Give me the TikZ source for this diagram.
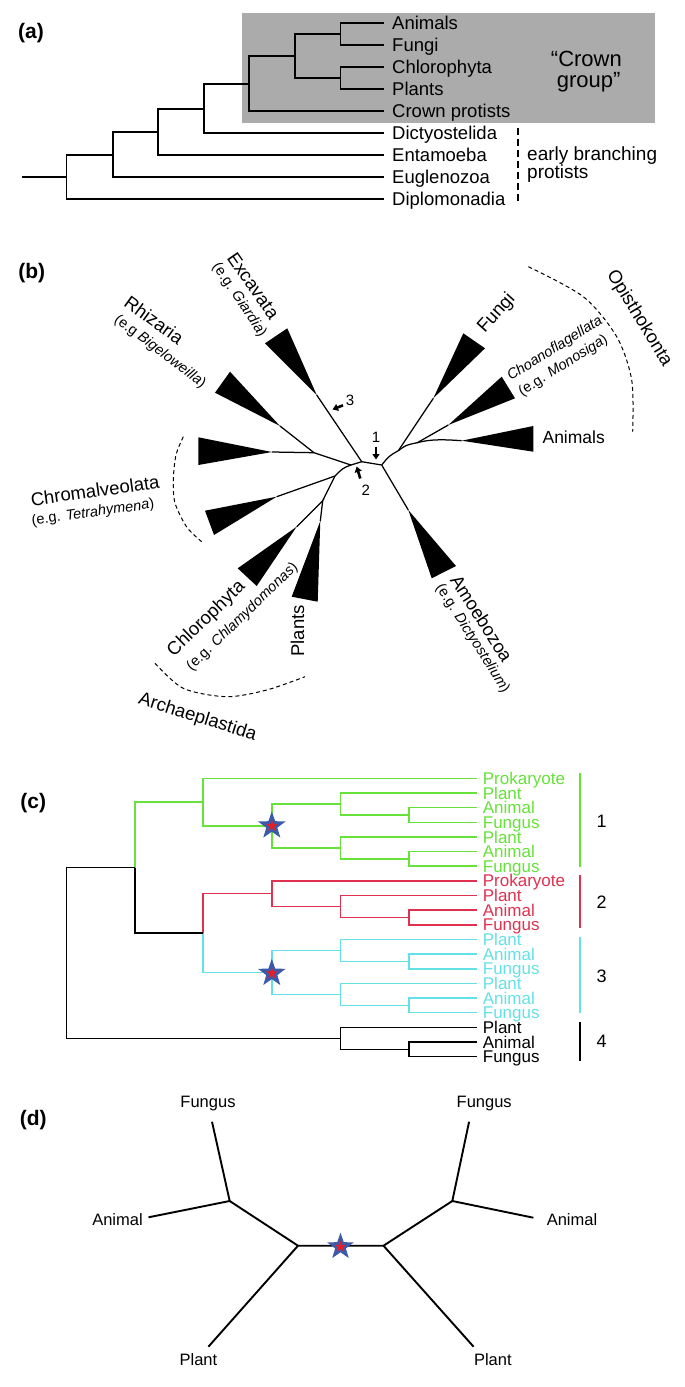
\documentclass[tikz,border=0pt]{standalone}
\usepackage{fontspec}
\setmainfont{Liberation Sans}
\usetikzlibrary{shapes.geometric,arrows.meta}
\definecolor{boxgray}{RGB}{171,171,171}
\definecolor{cgreen}{RGB}{102,226,58}
\definecolor{cred}{RGB}{224,50,80}
\definecolor{ccyan}{RGB}{100,225,230}
\definecolor{starblue}{RGB}{60,90,170}
\definecolor{starred}{RGB}{230,30,40}
\newcommand{\myfs}[1]{\fontsize{#1pt}{#1pt}\selectfont}
\begin{document}
\begin{tikzpicture}[x=1pt,y=-1pt,
 panel/.style={font=\myfs{21}\bfseries, inner sep=0},
 treea/.style={line width=1.9pt},
 leafa/.style={anchor=west, inner xsep=8.5pt, inner ysep=0, text height=13.2pt, text depth=0pt, font=\myfs{18.5}},
 btree/.style={line width=1.25pt, line join=round},
 blab/.style={font=\myfs{18.5}, inner sep=0},
 bsub/.style={font=\myfs{14.5}, inner sep=0},
 bnum/.style={font=\myfs{15}, inner sep=0},
 barrow/.style={line width=2.6pt, -{Triangle[length=5.5pt,width=7pt]}},
 dashedarc/.style={dash pattern=on 4pt off 3pt, line width=1pt},
 ctree/.style={line width=1.5pt},
 leafc/.style={anchor=west, inner xsep=6pt, inner ysep=0, text height=12.2pt, text depth=0pt, font=\myfs{17}},
 cnum/.style={font=\myfs{18}, inner sep=0},
 dtree/.style={line width=1.9pt, line join=round},
 dlab/.style={font=\myfs{16.5}, inner sep=0, text height=11.8pt, text depth=0pt},
 bigstar/.style={star, star points=5, star point ratio=2.5, fill=starblue, minimum size=29pt, inner sep=0},
 smallstar/.style={star, star points=5, star point ratio=2.5, fill=starred, minimum size=12pt, inner sep=0},
]
\useasboundingbox (0,0) rectangle (685,1387);
\fill[white] (0,0) rectangle (685,1387);

% ================= (a) =================
\node[panel] (pa) at (31,33) {(a)};
\fill[boxgray] (241.7,13.3) rectangle (655.3,122.7);
\node[leafa] (a1) at (383.5,23.3) {Animals};
\node[leafa] (a2) at (383.5,45.3) {Fungi};
\node[leafa] (a3) at (383.5,67.3) {Chlorophyta};
\node[leafa] (a4) at (383.5,89.3) {Plants};
\node[leafa] (a5) at (383.5,111.3) {Crown protists};
\node[leafa] (a6) at (383.5,133.3) {Dictyostelida};
\node[leafa] (a7) at (383.5,155.3) {Entamoeba};
\node[leafa] (a8) at (383.5,177.3) {Euglenozoa};
\node[leafa] (a9) at (383.5,199.3) {Diplomonadia};
\coordinate (aG) at (340.5,34.3);
\coordinate (aH) at (340.5,78.3);
\coordinate (aF) at (294.9,56.3);
\coordinate (aE) at (249.2,83.8);
\coordinate (aD) at (204,108.6);
\coordinate (aC) at (158.3,132);
\coordinate (aB) at (113,154.6);
\coordinate (aA) at (66.5,177);
\coordinate (aR) at (22.2,177);
\draw[treea] (aG) |- (a1.west);
\draw[treea] (aG) |- (a2.west);
\draw[treea] (aH) |- (a3.west);
\draw[treea] (aH) |- (a4.west);
\draw[treea] (aF) |- (aG);
\draw[treea] (aF) |- (aH);
\draw[treea] (aE) |- (aF);
\draw[treea] (aE) |- (a5.west);
\draw[treea] (aD) |- (aE);
\draw[treea] (aD) |- (a6.west);
\draw[treea] (aC) |- (aD);
\draw[treea] (aC) |- (a7.west);
\draw[treea] (aB) |- (aC);
\draw[treea] (aB) |- (a8.west);
\draw[treea] (aA) |- (aB);
\draw[treea] (aA) |- (a9.west);
\draw[treea] (aR) -- (aA);
\node[font=\myfs{22}, inner sep=0, text height=15.8pt, text depth=0pt] (cg1) at (586.4,58.8) {“Crown};
\node[font=\myfs{22}, inner sep=0, text height=15.8pt, text depth=0pt] (cg2) at (588.6,79.4) {group”};
\coordinate (ebt) at (518,127.7);
\coordinate (ebb) at (518,204);
\draw[line width=1.4pt, dash pattern=on 7pt off 4pt] (ebt) -- (ebb);
\node[anchor=west, font=\myfs{19}, inner sep=0, text height=13.6pt, text depth=0pt] (eb1) at (527,153.2) {early branching};
\node[anchor=west, font=\myfs{19}, inner sep=0, text height=13.6pt, text depth=0pt] (eb2) at (527,171.5) {protists};

% ================= (b) =================
\node[panel] (pb) at (31.7,273.3) {(b)};
\coordinate (n1) at (381.7,465);
\coordinate (n0) at (361.7,461.7);
\coordinate (n2) at (351,465);
\coordinate (nR) at (314,452.7);
\coordinate (nL) at (335,476);
\coordinate (nP) at (322.7,500.7);
\coordinate (nF) at (398.3,450.7);
\coordinate (nA) at (417.3,442.7);
\coordinate (exA) at (316.7,395);
\coordinate (rhA) at (280,426);
\coordinate (chUA) at (272,452);
\coordinate (chLA) at (276.7,496.7);
\coordinate (clA) at (296.7,526.7);
\coordinate (plA) at (320.3,521);
\coordinate (amA) at (408.3,510);
\coordinate (fuA) at (433.3,398.3);
\coordinate (coA) at (448.3,425);
\coordinate (anA) at (461.7,440.7);
% clades
\fill (exA) -- (265,343.3) -- (287.3,328.3) -- cycle;
\fill (rhA) -- (215,392.7) -- (230,371.7) -- cycle;
\fill (chUA) -- (198.3,437.3) -- (198.3,465) -- cycle;
\fill (chLA) -- (205,510.7) -- (214,535) -- cycle;
\fill (clA) -- (237.7,568.3) -- (256.7,586) -- cycle;
\fill (plA) -- (291.7,596.7) -- (317.7,601.7) -- cycle;
\fill (amA) -- (431.7,578.3) -- (456,566) -- cycle;
\fill (fuA) -- (463.3,333.3) -- (485,348.3) -- cycle;
\fill (coA) -- (501.7,376.7) -- (515,398.3) -- cycle;
\fill (anA) -- (533.3,426) -- (533.3,451.7) -- cycle;
% branches
\draw[btree] (exA) -- (n0) -- (n1);
\draw[btree] (n0) -- (n2) -- (nR) -- (rhA);
\draw[btree] (nR) -- (chUA);
\draw[btree] (n2) .. controls (343,468) .. (nL) -- (chLA);
\draw[btree] (nL) -- (nP) -- (clA);
\draw[btree] (nP) -- (plA);
\draw[btree] (n1) -- (amA);
\draw[btree] (n1) .. controls (389,456) .. (nF) -- (fuA);
\draw[btree] (nF) .. controls (406,445) .. (nA) -- (coA);
\draw[btree] (nA) .. controls (430,439) and (445,439.5) .. (anA);
% arrows
\node[bnum] (b1) at (376,437.3) {1};
\node[bnum] (b2) at (365.7,490) {2};
\node[bnum] (b3) at (350,400.7) {3};
\coordinate (ar1s) at (376,446.5);
\coordinate (ar1e) at (376,459.5);
\coordinate (ar2s) at (360.3,478.5);
\coordinate (ar2e) at (356.6,466.5);
\coordinate (ar3s) at (343,405.3);
\coordinate (ar3e) at (332.5,409.5);
\draw[barrow] (ar1s) -- (ar1e);
\draw[barrow] (ar2s) -- (ar2e);
\draw[barrow] (ar3s) -- (ar3e);
% labels
\node[blab, rotate=-55] (lex) at (253.3,285.8) {Excavata};
\node[bsub, rotate=-56] (lexs) at (239.2,300) {(e.g. \textit{Giardia})};
\node[blab, rotate=-36] (lrh) at (154.2,320) {Rhizaria};
\node[bsub, rotate=-37] (lrhs) at (160,351.7) {(e.g \textit{Bigeloweilla})};
\node[blab, rotate=8] (lch) at (95,490.5) {Chromalveolata};
\node[bsub, rotate=8] (lchs) at (93,513) {(e.g. \textit{Tetrahymena})};
\node[blab, rotate=44] (lcl) at (206.5,619) {Chlorophyta};
\node[bsub, rotate=44] (lcls) at (242.5,617) {(e.g. \textit{Chlamydomonas})};
\node[blab, rotate=90] (lpl) at (297.5,631) {Plants};
\node[blab, rotate=-17.5] (lar) at (197.5,717.5) {Archaeplastida};
\node[blab, rotate=-57.5] (lam) at (481.7,618.3) {Amoebozoa};
\node[bsub, rotate=-57.5] (lams) at (472.5,638.5) {(e.g. \textit{Dictyostelium})};
\node[blab, rotate=48] (lfu) at (496.7,313.3) {Fungi};
\node[bsub, rotate=32] (lco) at (555,348.8) {\textit{Choanoflagellata}};
\node[bsub, rotate=32] (lcos) at (563.3,365.8) {(e.g. \textit{Monosiga})};
\node[blab, font=\myfs{17.5}] (lan) at (573.7,437.3) {Animals};
\node[blab, rotate=-58.6] (lop) at (639.2,318.3) {Opisthokonta};
% dashed arcs
\draw[dashedarc] plot[smooth] coordinates {(528.3,266.7) (583.3,296.7) (616.7,336.7) (631.7,380) (632.7,431.7)};
\draw[dashedarc] plot[smooth] coordinates {(183.3,436.7) (176,455) (173.3,480) (175,503) (186.7,527) (201.7,541.7)};
\draw[dashedarc] plot[smooth] coordinates {(155,663.3) (183.3,688.3) (226.7,696.7) (266.7,690) (305,676.7)};

% ================= (c) =================
\node[panel] (pc) at (33.3,803.3) {(c)};
\node[leafc, text=cgreen] (c1) at (476.7,778.3) {Prokaryote};
\node[leafc, text=cgreen] (c2) at (476.7,792.95) {Plant};
\node[leafc, text=cgreen] (c3) at (476.7,807.6) {Animal};
\node[leafc, text=cgreen] (c4) at (476.7,822.25) {Fungus};
\node[leafc, text=cgreen] (c5) at (476.7,836.9) {Plant};
\node[leafc, text=cgreen] (c6) at (476.7,851.55) {Animal};
\node[leafc, text=cgreen] (c7) at (476.7,866.2) {Fungus};
\node[leafc, text=cred] (c8) at (476.7,880.85) {Prokaryote};
\node[leafc, text=cred] (c9) at (476.7,895.5) {Plant};
\node[leafc, text=cred] (c10) at (476.7,910.15) {Animal};
\node[leafc, text=cred] (c11) at (476.7,924.8) {Fungus};
\node[leafc, text=ccyan] (c12) at (476.7,939.45) {Plant};
\node[leafc, text=ccyan] (c13) at (476.7,954.1) {Animal};
\node[leafc, text=ccyan] (c14) at (476.7,968.75) {Fungus};
\node[leafc, text=ccyan] (c15) at (476.7,983.4) {Plant};
\node[leafc, text=ccyan] (c16) at (476.7,998.05) {Animal};
\node[leafc, text=ccyan] (c17) at (476.7,1012.7) {Fungus};
\node[leafc] (c18) at (476.7,1027.35) {Plant};
\node[leafc] (c19) at (476.7,1042) {Animal};
\node[leafc] (c20) at (476.7,1056.65) {Fungus};
\coordinate (gA) at (408.8,814.9);
\coordinate (gB) at (340.5,803.9);
\coordinate (gC) at (408.8,858.9);
\coordinate (gD) at (340.5,847.9);
\coordinate (gS) at (271.8,825.9);
\coordinate (gT) at (203,802.1);
\coordinate (rA) at (408.8,917.5);
\coordinate (rB) at (340.5,906.5);
\coordinate (rC) at (271.8,893.7);
\coordinate (cA) at (408.8,961.4);
\coordinate (cB) at (340.5,950.4);
\coordinate (cC) at (408.8,1005.4);
\coordinate (cD) at (340.5,994.4);
\coordinate (cS) at (271.8,972.4);
\coordinate (RC) at (203,933.05);
\coordinate (GRC) at (135.2,867.6);
\coordinate (kA) at (408.8,1049.3);
\coordinate (kB) at (340.5,1038.3);
\coordinate (root) at (66.5,953);
\begin{scope}[ctree, cgreen]
\draw (gA) |- (c3.west); \draw (gA) |- (c4.west);
\draw (gB) |- (c2.west); \draw (gB) |- (gA);
\draw (gC) |- (c6.west); \draw (gC) |- (c7.west);
\draw (gD) |- (c5.west); \draw (gD) |- (gC);
\draw (gS) |- (gB); \draw (gS) |- (gD);
\draw (gT) |- (c1.west); \draw (gT) |- (gS);
\draw (GRC) |- (gT);
\end{scope}
\begin{scope}[ctree, cred]
\draw (rA) |- (c10.west); \draw (rA) |- (c11.west);
\draw (rB) |- (c9.west); \draw (rB) |- (rA);
\draw (rC) |- (c8.west); \draw (rC) |- (rB);
\draw (RC) |- (rC);
\end{scope}
\begin{scope}[ctree, ccyan]
\draw (cA) |- (c13.west); \draw (cA) |- (c14.west);
\draw (cB) |- (c12.west); \draw (cB) |- (cA);
\draw (cC) |- (c16.west); \draw (cC) |- (c17.west);
\draw (cD) |- (c15.west); \draw (cD) |- (cC);
\draw (cS) |- (cB); \draw (cS) |- (cD);
\draw (RC) |- (cS);
\end{scope}
\begin{scope}[ctree]
\draw (kA) |- (c19.west); \draw (kA) |- (c20.west);
\draw (kB) |- (c18.west); \draw (kB) |- (kA);
\draw (GRC) |- (RC);
\draw (root) |- (GRC); \draw (root) |- (kB);
\end{scope}
\node[bigstar] (s1) at (gS) {};
\node[smallstar] (s1r) at (gS) {};
\node[bigstar] (s2) at (271.8,973.3) {};
\node[smallstar] (s2r) at (271.8,973.3) {};
% group brackets
\coordinate (g1t) at (580,773.3); \coordinate (g1b) at (580,866.7);
\coordinate (g2t) at (580,875); \coordinate (g2b) at (580,928.3);
\coordinate (g3t) at (580,936.7); \coordinate (g3b) at (580,1013.3);
\coordinate (g4t) at (580,1021.7); \coordinate (g4b) at (580,1060.7);
\draw[ctree, cgreen] (g1t) -- (g1b);
\draw[ctree, cred] (g2t) -- (g2b);
\draw[ctree, ccyan] (g3t) -- (g3b);
\draw[ctree] (g4t) -- (g4b);
\node[cnum] (k1) at (601.7,821.7) {1};
\node[cnum] (k2) at (601.7,902.7) {2};
\node[cnum] (k3) at (601.7,976) {3};
\node[cnum] (k4) at (601.7,1041.7) {4};

% ================= (d) =================
\node[panel] (pd) at (33.3,1120) {(d)};
\coordinate (dL) at (298,1245.7);
\coordinate (dR) at (383.5,1245.7);
\coordinate (dLU) at (229.7,1201);
\coordinate (dRU) at (452.3,1201);
\coordinate (eFL) at (212,1121.7);
\coordinate (eAL) at (148.5,1217.3);
\coordinate (ePL) at (208.4,1346.7);
\coordinate (eFR) at (469.1,1121.7);
\coordinate (eAR) at (533.4,1217.7);
\coordinate (ePR) at (473.6,1346.7);
\draw[dtree] (eFL) -- (dLU) -- (dL) -- (dR) -- (dRU) -- (eFR);
\draw[dtree] (eAL) -- (dLU);
\draw[dtree] (ePL) -- (dL);
\draw[dtree] (dR) -- (ePR);
\draw[dtree] (dRU) -- (eAR);
\node[bigstar, minimum size=28pt] (s3) at (340.5,1246.7) {};
\node[smallstar] (s3r) at (340.5,1246.7) {};
\node[dlab] (dfl) at (208,1101.7) {Fungus};
\node[dlab] (dfr) at (484.2,1101.7) {Fungus};
\node[dlab] (dal) at (117.5,1219.3) {Animal};
\node[dlab] (dar) at (572,1219.3) {Animal};
\node[dlab] (dpl) at (198.4,1359.5) {Plant};
\node[dlab] (dpr) at (492.8,1359.5) {Plant};
\end{tikzpicture}
\end{document}
